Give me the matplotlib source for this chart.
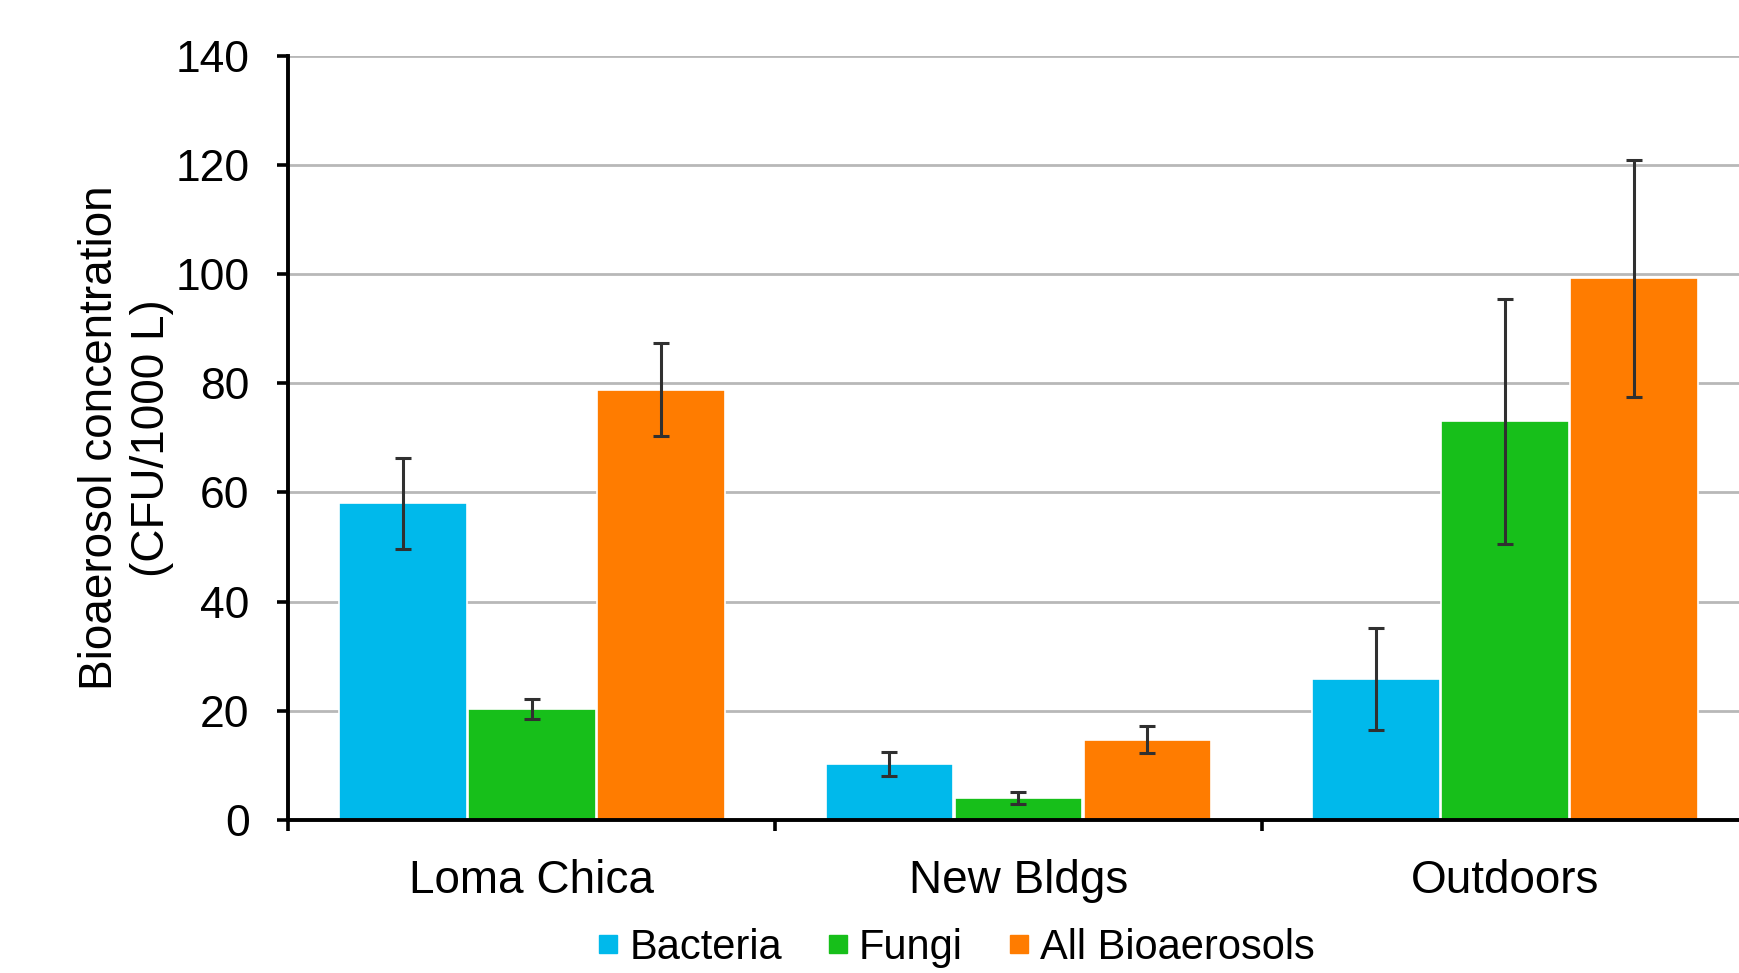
import numpy as np
import matplotlib
matplotlib.use('Agg')
from matplotlib import pyplot as plt
from matplotlib.lines import Line2D

plt.rcParams['font.family'] = ['Liberation Sans', 'DejaVu Sans']

# data
sites = ['Loma Chica', 'New Bldgs', 'Outdoors']
series = ['Bacteria', 'Fungi', 'All Bioaerosols']
bacteria = [58.0, 10.2, 25.8]
bacteria_err = [8.3, 2.2, 9.4]
fungi = [20.3, 4.1, 73.0]
fungi_err = [1.8, 1.1, 22.5]
all_bio = [78.8, 14.7, 99.2]
all_bio_err = [8.5, 2.5, 21.7]
colors = ['#00B9EB', '#17BF1A', '#FF7C00']

fig = plt.figure(figsize=(17.4, 9.73), dpi=100)
ax = fig.add_axes([0.1658, 0.1572, 0.839, 0.7857])

x = np.arange(len(sites)) + 0.5
width = 0.262
offsets = [-0.265, 0.0, 0.265]
values = [bacteria, fungi, all_bio]
errors = [bacteria_err, fungi_err, all_bio_err]

for i in range(3):
    ax.bar(x + offsets[i], values[i], width=width, color=colors[i],
           edgecolor='white', linewidth=1.2, zorder=2)
    ax.errorbar(x + offsets[i], values[i], yerr=errors[i], fmt='none',
                ecolor='#303030', elinewidth=2.2, capsize=5.5, capthick=2.2,
                zorder=3)

ax.set_xlim(0, 3)
ax.set_ylim(0, 140)
ax.set_yticks(range(0, 141, 20))
ax.yaxis.grid(True, color='#b8b8b8', linewidth=2.0)
ax.set_axisbelow(True)

ax.set_xticks([0, 1, 2, 3])
ax.set_xticklabels([])
ax.set_xticks(x, minor=True)
ax.set_xticklabels(sites, minor=True, fontsize=33)
ax.tick_params(axis='x', which='minor', length=0, pad=28)
ax.tick_params(axis='x', which='major', length=8, width=2.6, direction='out')
ax.tick_params(axis='y', length=8, width=2.6, labelsize=32, pad=20)

for s in ['top', 'right']:
    ax.spines[s].set_visible(False)
ax.spines['left'].set_linewidth(2.8)
ax.spines['bottom'].set_linewidth(2.8)

fig.text(126 / 1740, 0.55, 'Bioaerosol concentration\n(CFU/1000 L)',
         rotation=90, ha='center', va='center', fontsize=33, linespacing=1.25)

handles = [Line2D([], [], marker='s', linestyle='none', markersize=13,
                  markerfacecolor=c, markeredgecolor=c) for c in colors]
fig.legend(handles, series, loc='center', bbox_to_anchor=(0.549, 0.026),
           ncol=3, frameon=False, fontsize=30, handlelength=0.6,
           handletextpad=0.2, columnspacing=1.05, borderpad=0.1)

plt.savefig('out.png', dpi=100)
